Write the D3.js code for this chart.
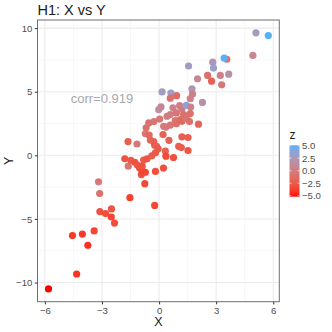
<!DOCTYPE html>
<html>
<head>
<meta charset="utf-8">
<script src="https://cdn.jsdelivr.net/npm/d3@7"></script>
<style>
  body { margin: 0; background: #fff; }
  text { font-family: "Liberation Sans", Arial, sans-serif; }
</style>
</head>
<body>
<div id="vis"></div>
<script>

// values
let xVals = [-5.81, -4.55, -4.33, -4.03, -3.74, -3.41, -3.18, -3.12, -3.11, -2.81,
    -2.50, -2.51, -2.34, -1.80, -1.63, -1.62, -1.53, -1.48, -1.27, -1.16,
    -1.14, -1.03, -0.93, -0.89, -0.89, -0.81, -0.75, -0.72, -0.68, -0.72,
    -0.63, -0.54, -0.52, -0.46, -0.38, -0.28, -0.23, -0.23, -0.19, -0.19,
    -0.27, -0.13, -0.05, -0.02, 0.10, 0.03, 0.16, 0.21, 0.24, 0.23,
    0.33, 0.36, 0.36, 0.42, 0.52, 0.59, 0.62, 0.59, 0.59, 0.73,
    0.76, 0.85, 0.92, 0.91, 0.91, 1.03, 1.08, 1.11, 1.17, 1.20,
    1.20, 1.20, 1.29, 1.43, 1.43, 1.52, 1.52, 1.55, 1.60, 1.64,
    1.66, 1.64, 1.73, 1.76, 2.02, 2.07, 2.28, 2.55, 2.76, 2.82,
    2.86, 3.22, 3.29, 3.66, 3.56, 3.42, 4.93, 5.09, 5.74];

let yVals = [-10.50, -6.31, -9.33, -6.19, -7.07, -5.94, -2.08, -3.00, -4.42, -4.58,
    -4.21, -4.85, -5.33, -0.27, 1.08, -0.85, -3.33, -0.39, -0.55, 0.89,
    -0.76, -0.98, -1.51, -1.25, -0.85, -0.37, -2.23, -1.33, 2.16, 1.71,
    -0.27, 2.55, 1.59, 1.20, -0.04, 1.08, 0.79, -3.94, 0.20, -1.27,
    2.65, 0.71, 0.51, 3.59, 3.80, 2.85, 4.98, 1.63, 2.28, -1.00,
    0.34, -0.07, 2.22, 3.07, 1.18, 2.38, 4.89, 4.49, 3.20, 3.73,
    -0.17, 2.73, 4.69, 3.33, 2.49, 0.71, 3.91, 2.81, 0.61, 1.45,
    3.65, 2.67, 3.20, 3.93, 2.89, 1.40, 0.38, 7.02, 2.65, 4.45,
    3.79, 3.28, 5.22, 4.82, 6.02, 2.45, 4.16, 6.28, 5.83, 7.32,
    6.86, 6.28, 5.54, 6.38, 7.55, 7.65, 7.85, 9.63, 9.42];

let zVals = [-5.2, -4.0, -4.3, -4.0, -4.3, -3.5, -0.3, -0.8, -3.0, -3.2,
    -2.8, -3.5, -3.2, -2.8, -2.2, -0.5, -3.8, -2.5, -3.0, -0.5,
    -2.8, -3.0, -3.0, -3.5, -3.0, -2.5, -3.3, -3.5, -1.0, -0.5,
    -2.8, -0.8, -1.5, -1.5, -2.5, -2.0, -2.5, -3.5, -2.5, -3.0,
    -0.5, -2.0, -2.5, 1.8, 0.8, -0.5, 2.8, -2.0, 0.0, -3.0,
    -2.2, -3.3, -0.5, 0.0, -2.0, -0.5, 2.8, -0.8, 0.0, 0.5,
    -3.0, -0.5, -1.2, -0.5, -1.0, -2.2, 0.5, -1.0, -2.3, -2.2,
    0.0, -1.5, -1.0, 3.8, -0.5, -2.2, -2.8, 2.8, -1.0, 0.5,
    0.5, -1.0, 2.3, 0.3, 0.8, -1.8, 1.8, -1.0, -2.0, 2.3,
    3.3, 0.3, -0.5, 1.8, -1.0, 5.1, 0.8, 2.8, 5.1];

let xTicks = [-6, -3, 0, 3, 6];
let yTicks = [-10, -5, 0, 5, 10];
let zTicks = [5, 2.5, 0, -2.5, -5];

let points = xVals.map((x, i) => ({x: x, y: yVals[i], z: zVals[i]}));

let W = 332, H = 332;
let margin = {top: 20, right: 52.7, bottom: 30.3, left: 37.5};
let width = W - margin.left - margin.right,
    height = H - margin.top - margin.bottom;

let svg = d3.select('#vis')
    .append('svg')
    .attr('width', W)
    .attr('height', H);

// ggplot style 5% expansion
function expand(ext) {
    let pad = (ext[1] - ext[0]) * 0.05;
    return [ext[0] - pad, ext[1] + pad];
}

let xScale = d3.scaleLinear()
    .domain(expand(d3.extent(xVals)))
    .range([margin.left, margin.left + width]);

let yScale = d3.scaleLinear()
    .domain(expand(d3.extent(yVals)))
    .range([margin.top + height, margin.top]);

let zExt = d3.extent(zVals);
let color = d3.scaleLinear()
    .domain(zExt)
    .range(['#ff0000', '#56B1F7'])
    .interpolate(d3.interpolateLab);

// grid
let grid = svg.append('g');
let xMinor = xTicks.slice(1).map((t, i) => (t + xTicks[i]) / 2);
let yMinor = yTicks.slice(1).map((t, i) => (t + yTicks[i]) / 2);

grid.selectAll('line.xminor').data(xMinor).enter().append('line')
    .attr('x1', d => xScale(d)).attr('x2', d => xScale(d))
    .attr('y1', margin.top).attr('y2', margin.top + height)
    .attr('stroke', '#f2f2f2').attr('stroke-width', 0.6);
grid.selectAll('line.yminor').data(yMinor).enter().append('line')
    .attr('y1', d => yScale(d)).attr('y2', d => yScale(d))
    .attr('x1', margin.left).attr('x2', margin.left + width)
    .attr('stroke', '#f2f2f2').attr('stroke-width', 0.6);
grid.selectAll('line.xmajor').data(xTicks).enter().append('line')
    .attr('x1', d => xScale(d)).attr('x2', d => xScale(d))
    .attr('y1', margin.top).attr('y2', margin.top + height)
    .attr('stroke', '#ebebeb').attr('stroke-width', 1.1);
grid.selectAll('line.ymajor').data(yTicks).enter().append('line')
    .attr('y1', d => yScale(d)).attr('y2', d => yScale(d))
    .attr('x1', margin.left).attr('x2', margin.left + width)
    .attr('stroke', '#ebebeb').attr('stroke-width', 1.1);

// points
svg.append('g')
    .selectAll('circle')
    .data(points)
    .enter()
    .append('circle')
    .attr('cx', d => xScale(d.x))
    .attr('cy', d => yScale(d.y))
    .attr('r', 3.6)
    .attr('fill', d => color(d.z));

// corr label
svg.append('text')
    .attr('x', xScale(-3))
    .attr('y', yScale(4.5))
    .attr('dy', '0.35em')
    .attr('text-anchor', 'middle')
    .attr('font-size', 13)
    .attr('fill', '#a9a9a9')
    .text('corr=0.919');

// panel border
svg.append('rect')
    .attr('x', margin.left).attr('y', margin.top)
    .attr('width', width).attr('height', height)
    .attr('fill', 'none')
    .attr('stroke', '#6e6e6e')
    .attr('stroke-width', 1);

// axes
let xAxis = svg.append('g')
    .attr('transform', 'translate(0,' + (margin.top + height) + ')')
    .call(d3.axisBottom(xScale).tickValues(xTicks).tickSize(2.7).tickPadding(2.5)
        .tickFormat(d => d < 0 ? '\u2212' + Math.abs(d) : d));
let yAxis = svg.append('g')
    .attr('transform', 'translate(' + margin.left + ',0)')
    .call(d3.axisLeft(yScale).tickValues(yTicks).tickSize(2.7).tickPadding(2.5)
        .tickFormat(d => d < 0 ? '\u2212' + Math.abs(d) : d));

[xAxis, yAxis].forEach(a => {
    a.select('.domain').remove();
    a.selectAll('.tick line').attr('stroke', '#333');
    a.selectAll('.tick text')
        .attr('fill', '#4d4d4d')
        .attr('font-size', 9.6)
        .attr('font-family', '"Liberation Sans", Arial, sans-serif');
});

// titles
svg.append('text')
    .attr('x', margin.left)
    .attr('y', 14.5)
    .attr('font-size', 14.5)
    .attr('fill', '#1a1a1a')
    .text('H1: X vs Y');

svg.append('text')
    .attr('x', margin.left + width / 2)
    .attr('y', 325.5)
    .attr('text-anchor', 'middle')
    .attr('font-size', 12.5)
    .attr('fill', '#1a1a1a')
    .text('X');

svg.append('text')
    .attr('transform', 'translate(12.5,' + (margin.top + height / 2) + ') rotate(-90)')
    .attr('text-anchor', 'middle')
    .attr('font-size', 12.5)
    .attr('fill', '#1a1a1a')
    .text('Y');

// legend
let barX = 289.5, barW = 10;
let zScale = d3.scaleLinear()
    .domain(zExt)
    .range([196.7, 145.2]);

let grad = svg.append('defs').append('linearGradient')
    .attr('id', 'zgrad')
    .attr('x1', 0).attr('x2', 0).attr('y1', 1).attr('y2', 0);
d3.range(0, 1.0001, 0.05).forEach(t => {
    grad.append('stop')
        .attr('offset', t)
        .attr('stop-color', color(zExt[0] + t * (zExt[1] - zExt[0])));
});

svg.append('text')
    .attr('x', barX)
    .attr('y', 139)
    .attr('font-size', 12)
    .attr('fill', '#1a1a1a')
    .text('z');

svg.append('rect')
    .attr('x', barX)
    .attr('y', zScale(zExt[1]))
    .attr('width', barW)
    .attr('height', zScale(zExt[0]) - zScale(zExt[1]))
    .attr('fill', 'url(#zgrad)');

let lt = svg.append('g').selectAll('g').data(zTicks).enter().append('g');
lt.append('line')
    .attr('x1', barX).attr('x2', barX + 2)
    .attr('y1', d => zScale(d)).attr('y2', d => zScale(d))
    .attr('stroke', '#fff').attr('stroke-width', 0.6);
lt.append('line')
    .attr('x1', barX + barW - 2).attr('x2', barX + barW)
    .attr('y1', d => zScale(d)).attr('y2', d => zScale(d))
    .attr('stroke', '#fff').attr('stroke-width', 0.6);
lt.append('text')
    .attr('x', barX + barW + 2.5)
    .attr('y', d => zScale(d))
    .attr('dy', '0.35em')
    .attr('font-size', 9.6)
    .attr('fill', '#4d4d4d')
    .text(d => (d < 0 ? '\u2212' : '') + Math.abs(d).toFixed(1));

</script>
</body>
</html>
